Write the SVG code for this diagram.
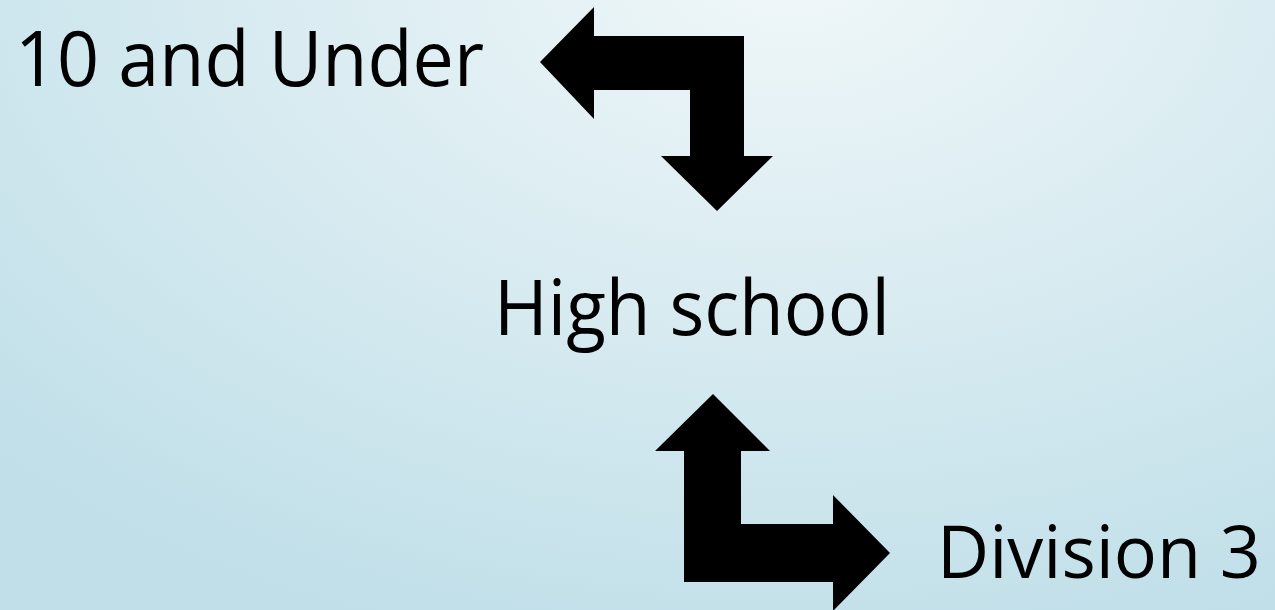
<svg xmlns="http://www.w3.org/2000/svg" width="1275" height="610" viewBox="0 0 1275 610">
<defs>
<radialGradient id="bg" cx="0.62" cy="-0.05" r="1.15" gradientTransform="translate(0.62,-0.05) scale(0.75,1) translate(-0.62,0.05)">
<stop offset="0" stop-color="#f0f7f9"/>
<stop offset="1" stop-color="#c0dfe9"/>
</radialGradient>
<style>
.lbl{font-family:"Open Sans","Noto Sans",sans-serif;font-size:76px;fill:#000}
.arr{fill:#000}
</style>
</defs>
<rect width="1275" height="610" fill="url(#bg)"/>
<g id="connectors">
<path class="arr" d="M540,62 L594,7 L594,36 L744,36 L744,156 L773,156 L717,211 L661,156 L690,156 L690,90 L594,90 L594,119 Z"/>
<path class="arr" d="M713,394 L770,451 L741,451 L741,524 L833,524 L833,495 L890,553 L833,611 L833,582 L684,582 L684,451 L655,451 Z"/>
</g>
<g id="node-under10"><text class="lbl" x="15" y="86" textLength="469" lengthAdjust="spacingAndGlyphs">10 and Under</text></g>
<g id="node-highschool"><text class="lbl" x="494" y="335" textLength="396" lengthAdjust="spacingAndGlyphs">High school</text></g>
<g id="node-division3"><text class="lbl" x="937" y="578" style="font-size:74px" textLength="324" lengthAdjust="spacingAndGlyphs">Division 3</text></g>
</svg>
